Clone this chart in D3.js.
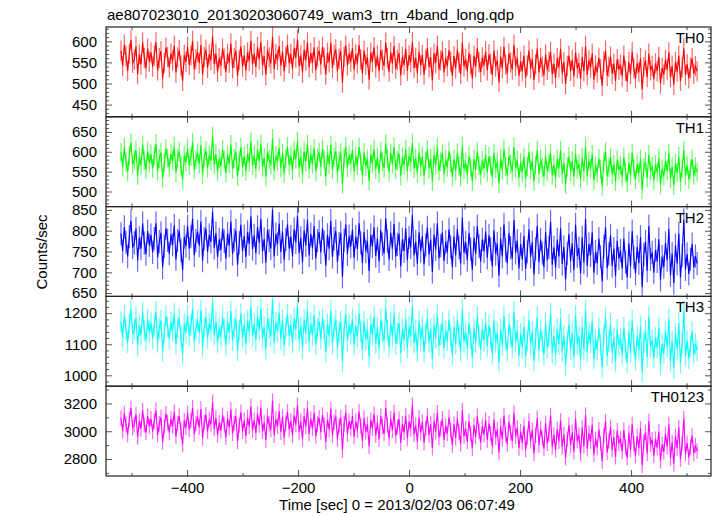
<!DOCTYPE html>
<html><head><meta charset="utf-8">
<script src="https://cdn.jsdelivr.net/npm/d3@7"></script>
<style>body{margin:0;background:#fff} text{font-family:"Liberation Sans",Arial,Helvetica,sans-serif;fill:#000}</style>
</head><body><svg id="c" width="717" height="516"></svg>
<script>
const titleText = "ae807023010_20130203060749_wam3_trn_4band_long.qdp";
const xLabelText = "Time [sec] 0 = 2013/02/03 06:07:49";
const yLabelText = "Counts/sec";
const binStart = -519, binSize = 3;
const panelNames = ["TH0","TH1","TH2","TH3","TH0123"];
const colors = ["#ff0000","#00ff00","#0000ff","#00ffff","#ff00ff"];
const errors = [24, 24, 28, 34, 55];
const yDomains = [[421,634],[462,688],[642,858],[965,1254],[2678,3324]];
const yMajorTicks = [[450,500,550,600],[500,550,600,650],[650,700,750,800,850],[1000,1100,1200],[2800,3000,3200]];
const yMinorStep = [10,10,10,20,100];
const xMajorTicks = [-400,-200,0,200,400];
const xMinorTicks = [-500,-300,-100,100,300,500];
const xDomain = [-546, 544];

const th0 = [
578,541,592,566,530,571,603,549,557,588,522,569,545,597,561,536,583,552,574,540,
566,598,531,560,577,512,549,585,563,538,571,554,590,526,562,579,543,506,568,551,
587,544,566,601,533,558,575,548,592,521,563,580,537,569,555,612,546,571,528,560,
542,583,559,527,570,549,595,536,561,578,518,556,588,540,567,531,574,553,601,545,
571,539,586,557,598,543,565,520,579,562,548,611,534,570,556,589,542,576,529,564,
592,548,570,535,583,561,604,541,567,526,580,555,597,538,572,549,586,531,563,578,
545,587,562,521,573,550,596,537,568,581,529,559,577,502,564,590,543,571,552,584,
533,569,548,591,557,524,578,545,562,509,573,551,586,538,566,529,580,556,541,597,
560,528,574,547,589,535,556,572,519,563,544,582,530,567,550,598,537,561,525,575,
543,568,521,556,584,539,562,507,571,548,590,533,555,576,526,560,541,579,552,518,
565,536,580,549,522,597,541,558,529,573,546,512,566,539,584,550,527,562,543,576,
531,569,547,520,578,540,555,503,564,536,587,545,524,571,550,533,592,541,560,518,
552,529,566,514,543,578,535,557,508,546,583,526,561,540,519,569,532,551,575,522,
547,513,560,538,582,524,551,499,541,566,530,556,517,574,536,548,511,563,529,589,
520,555,537,571,509,543,526,561,534,495,552,578,518,540,564,523,547,506,558,533,
545,517,566,530,504,551,522,575,536,512,548,527,560,486,539,555,515,571,531,542,
510,548,529,563,500,537,521,556,533,574,515,542,497,551,528,566,506,538,583,520,
546,512,537,560,523,541,529];

const th1 = [
598,562,611,575,549,590,623,568,580,604,541,587,566,617,579,555,601,572,594,558,
589,620,551,583,598,533,572,607,585,560,594,577,613,548,584,601,565,529,590,574,
609,566,588,624,555,580,597,569,616,543,585,603,559,591,577,639,568,594,550,583,
563,605,580,547,592,570,618,556,583,600,538,577,611,561,589,552,596,574,626,566,
591,557,606,576,619,561,585,537,599,580,566,633,552,590,575,610,560,596,546,583,
613,567,590,553,604,581,627,560,588,544,601,575,619,557,593,569,608,550,584,599,
562,607,581,538,593,569,617,555,587,601,546,578,598,519,584,612,560,591,571,605,
551,589,566,612,576,541,598,563,582,526,593,570,607,555,586,546,601,575,559,620,
583,549,597,569,612,555,578,595,540,586,566,606,551,589,573,622,558,584,546,598,
562,589,540,576,605,557,583,526,592,567,611,552,575,597,545,580,561,601,572,537,
581,551,597,564,536,614,556,573,543,590,561,526,582,554,601,565,541,578,558,593,
549,588,565,537,597,558,574,520,583,554,607,563,541,590,568,551,612,559,579,535,
573,548,587,532,563,599,554,577,526,566,604,545,581,560,538,590,551,571,596,541,
568,533,582,559,604,544,572,518,562,588,550,577,537,596,556,569,530,585,549,611,
540,577,558,593,528,564,546,583,555,514,574,600,538,561,586,543,568,525,580,554,
566,536,587,550,522,572,541,597,557,530,569,547,582,505,560,576,534,593,551,563,
528,568,548,584,518,557,539,577,552,596,533,562,515,571,547,588,524,558,604,539,
566,530,557,581,541,562,549];

const th2 = [
793,751,809,772,738,786,824,760,771,805,729,783,757,818,770,744,799,765,790,748,
781,818,736,774,795,712,762,806,777,745,791,766,813,731,776,800,752,705,785,763,
811,757,786,829,741,776,798,764,822,728,781,805,749,790,773,846,759,794,737,779,
754,805,775,733,793,764,822,744,778,801,718,771,814,751,787,737,797,768,835,756,
789,746,809,771,828,750,780,723,802,776,757,851,738,792,768,817,749,798,730,779,
815,757,786,738,804,772,836,746,783,724,801,765,826,741,792,758,811,733,776,797,
748,806,773,716,790,757,824,737,781,799,725,769,795,689,777,815,744,787,762,803,
735,786,756,818,771,722,797,750,775,703,790,762,809,739,781,726,801,768,745,830,
775,731,795,757,816,738,767,793,714,779,751,805,729,784,760,838,741,774,720,796,
751,787,719,766,808,743,779,701,790,755,818,734,764,796,727,773,748,803,761,712,
786,741,804,760,721,831,747,772,729,795,756,706,783,744,811,763,726,779,750,798,
735,789,756,714,801,744,769,692,781,738,815,753,722,794,759,733,826,747,776,709,
768,731,787,708,749,803,737,772,695,756,812,724,779,746,712,797,729,760,821,718,
760,711,779,738,806,720,761,683,745,792,727,770,705,815,739,758,698,784,723,829,
716,768,741,796,699,750,722,781,737,678,762,808,710,744,789,715,757,691,776,733,
752,709,781,725,688,770,714,799,736,697,761,722,785,665,743,774,704,811,731,748,
699,754,726,780,682,738,713,771,729,804,693,745,674,765,721,793,688,741,826,707,
744,696,731,768,712,739,721];

const th3 = [
1172,1121,1193,1148,1106,1165,1211,1133,1147,1187,1095,1160,1129,1203,1144,1113,1180,1139,1169,1118,
1161,1205,1107,1151,1177,1078,1138,1191,1156,1117,1171,1141,1198,1101,1154,1183,1125,1069,1165,1137,
1192,1127,1161,1214,1108,1150,1176,1136,1209,1093,1155,1186,1119,1167,1146,1236,1130,1173,1104,1153,
1124,1186,1150,1097,1172,1136,1207,1112,1153,1181,1080,1145,1197,1120,1164,1102,1176,1140,1221,1126,
1166,1114,1190,1145,1214,1119,1156,1086,1183,1150,1127,1243,1105,1170,1141,1201,1117,1178,1096,1153,
1197,1127,1162,1104,1184,1146,1224,1114,1158,1088,1179,1136,1210,1108,1168,1129,1193,1099,1150,1175,
1116,1185,1145,1076,1166,1126,1208,1103,1155,1177,1089,1141,1173,1044,1150,1196,1110,1162,1132,1182,
1098,1160,1124,1199,1142,1082,1173,1116,1147,1060,1165,1131,1188,1103,1154,1087,1180,1139,1111,1215,
1145,1092,1170,1124,1195,1101,1136,1168,1072,1149,1115,1181,1089,1156,1127,1223,1104,1143,1077,1174,
1115,1159,1076,1133,1184,1106,1150,1054,1163,1120,1197,1096,1131,1171,1087,1143,1112,1179,1126,1066,
1156,1101,1178,1124,1077,1212,1108,1139,1086,1167,1119,1058,1152,1105,1188,1127,1082,1148,1113,1171,
1094,1160,1120,1069,1175,1105,1136,1042,1149,1097,1191,1116,1078,1166,1123,1091,1204,1109,1144,1062,
1134,1089,1157,1061,1111,1177,1097,1140,1046,1119,1188,1080,1147,1108,1066,1169,1087,1125,1199,1072,
1126,1066,1149,1100,1183,1078,1128,1033,1107,1164,1085,1137,1058,1192,1101,1124,1050,1156,1082,1209,
1075,1138,1105,1172,1053,1115,1081,1153,1099,1027,1130,1186,1062,1108,1163,1071,1122,1043,1147,1096,
1119,1067,1154,1086,1041,1141,1073,1176,1098,1050,1128,1081,1159,1012,1106,1144,1059,1189,1093,1113,
1056,1122,1088,1153,1034,1101,1071,1142,1091,1182,1046,1109,1023,1135,1083,1168,1039,1104,1205,1062,
1111,1053,1095,1140,1068,1101,1079];

const th0123 = [
3094,3002,3131,3051,2976,3083,3166,3025,3049,3121,2957,3073,3018,3150,3046,2990,3109,3037,3090,2998,
3072,3151,2974,3054,3100,2921,3031,3127,3062,2991,3088,3035,3138,2963,3057,3109,3004,2904,3077,3026,
3130,3012,3074,3169,2979,3055,3101,3029,3160,2951,3063,3119,2999,3085,3047,3209,3019,3096,2972,3060,
3005,3116,3051,2956,3091,3027,3155,2984,3058,3108,2926,3043,3137,2999,3078,2966,3099,3034,3180,3008,
3081,2988,3125,3044,3168,2997,3063,2937,3111,3052,3011,3219,2971,3088,3036,3144,2993,3103,2956,3058,
3139,3012,3075,2971,3115,3047,3188,2993,3072,2946,3110,3033,3165,2981,3089,3019,3134,2965,3052,3097,
2993,3117,3045,2921,3083,3011,3159,2971,3065,3104,2946,3040,3097,2864,3052,3135,2980,3073,3019,3109,
2960,3072,3007,3142,3039,2931,3095,2993,3049,2892,3081,3020,3123,2970,3062,2942,3109,3034,2983,3169,
3045,2950,3090,3007,3135,2967,3030,3087,2915,3053,2992,3111,2948,3068,3016,3189,2975,3043,2925,3097,
2989,3068,2919,3021,3113,2973,3052,2880,3075,2997,3135,2955,3018,3090,2939,3039,2983,3102,3007,2899,
3051,2952,3091,2994,2909,3150,2965,3020,2925,3071,2985,2876,3044,2959,3108,2999,2918,3037,2975,3079,
2937,3055,2983,2891,3082,2956,3012,2845,3036,2943,3112,2977,2908,3066,2988,2930,3132,2962,3025,2878,
2998,2918,3039,2866,2956,3074,2931,3008,2840,2971,3094,2899,3019,2950,2875,3059,2912,2980,3113,2889,
2974,2866,3015,2928,3077,2889,2978,2808,2941,3043,2901,2993,2851,3092,2930,2971,2838,3026,2893,3118,
2874,2987,2927,3047,2833,2944,2883,3012,2914,2785,2969,3070,2848,2931,3030,2866,2957,2815,3004,2912,
2947,2854,3010,2888,2808,2987,2866,3050,2911,2825,2965,2880,3019,2755,2924,2992,2840,3073,2903,2939,
2825,2943,2882,2998,2785,2906,2852,2979,2888,3050,2807,2919,2766,2966,2880,3028,2798,2912,3093,2837,
2915,2812,2887,2968,2840,2899,2856];

const seriesValues = [th0, th1, th2, th3, th0123];

const left = 106, right = 711, top0 = 27, panelH = 89.8;
const svg = d3.select("#c");
const x = d3.scaleLinear().domain(xDomain).range([left, right]);

svg.append("text").attr("x", 107).attr("y", 20).attr("font-size", 15).text(titleText);

seriesValues.forEach((vals, p) => {
  const y0 = top0 + p * panelH, y1 = y0 + panelH;
  const y = d3.scaleLinear().domain(yDomains[p]).range([y1, y0]);
  const g = svg.append("g");
  const clipId = "clip" + p;
  svg.append("clipPath").attr("id", clipId).append("rect")
    .attr("x", left).attr("y", y0).attr("width", right - left).attr("height", panelH);
  const data = vals.map((v, i) => ({t: binStart + i * binSize, v}));
  const dg = g.append("g").attr("clip-path", `url(#${clipId})`);
  const err = errors[p];
  dg.append("g").selectAll("line").data(data).join("line")
    .attr("x1", d => x(d.t)).attr("x2", d => x(d.t))
    .attr("y1", d => y(d.v - err)).attr("y2", d => y(d.v + err))
    .attr("stroke", colors[p]).attr("stroke-opacity", 0.6).attr("stroke-width", 1.2);
  dg.append("path").datum(data)
    .attr("d", d3.line().x(d => x(d.t)).y(d => y(d.v)))
    .attr("fill", "none").attr("stroke", colors[p]).attr("stroke-width", 1.1);

  const minor = d3.range(Math.ceil(yDomains[p][0] / yMinorStep[p]) * yMinorStep[p], yDomains[p][1], yMinorStep[p])
    .filter(v => !yMajorTicks[p].includes(v));
  const axStyle = sel => { sel.select(".domain").remove(); sel.selectAll(".tick line").attr("stroke", "#555"); };
  g.append("g").attr("transform", `translate(${left},0)`)
    .call(d3.axisLeft(y).tickValues(minor).tickSize(-3).tickFormat("")).call(axStyle);
  g.append("g").attr("transform", `translate(${right},0)`)
    .call(d3.axisRight(y).tickValues(minor).tickSize(-3).tickFormat("")).call(axStyle);
  const la = g.append("g").attr("transform", `translate(${left},0)`)
    .call(d3.axisLeft(y).tickValues(yMajorTicks[p]).tickSize(-6).tickPadding(9).tickFormat(d3.format("d"))).call(axStyle);
  la.selectAll("text").attr("font-size", 15).attr("font-family", '"Liberation Sans",Arial,sans-serif').attr("fill", "#000");
  g.append("g").attr("transform", `translate(${right},0)`)
    .call(d3.axisRight(y).tickValues(yMajorTicks[p]).tickSize(-6).tickFormat("")).call(axStyle);

  g.append("g").attr("transform", `translate(0,${y0})`)
    .call(d3.axisTop(x).tickValues(xMajorTicks).tickSize(-6).tickFormat("")).call(axStyle);
  g.append("g").attr("transform", `translate(0,${y0})`)
    .call(d3.axisTop(x).tickValues(xMinorTicks).tickSize(-3).tickFormat("")).call(axStyle);
  g.append("g").attr("transform", `translate(0,${y1})`)
    .call(d3.axisBottom(x).tickValues(xMinorTicks).tickSize(-3).tickFormat("")).call(axStyle);
  const ba = g.append("g").attr("transform", `translate(0,${y1})`)
    .call(d3.axisBottom(x).tickValues(xMajorTicks).tickSize(-6).tickPadding(6)
      .tickFormat(p === seriesValues.length - 1 ? d3.format("d") : "")).call(axStyle);
  ba.selectAll("text").attr("font-size", 15).attr("font-family", '"Liberation Sans",Arial,sans-serif').attr("fill", "#000");

  g.append("rect").attr("x", left).attr("y", y0).attr("width", right - left).attr("height", panelH)
    .attr("fill", "none").attr("stroke", "#222").attr("stroke-width", 1.2);

  g.append("text").attr("x", 704).attr("y", y0 + 16).attr("text-anchor", "end")
    .attr("font-size", 15).text(panelNames[p]);
});

svg.append("text").attr("x", 397).attr("y", 510).attr("text-anchor", "middle")
  .attr("font-size", 15).text(xLabelText);
svg.append("text").attr("transform", "translate(47,252) rotate(-90)").attr("text-anchor", "middle")
  .attr("font-size", 15).text(yLabelText);
</script></body></html>
